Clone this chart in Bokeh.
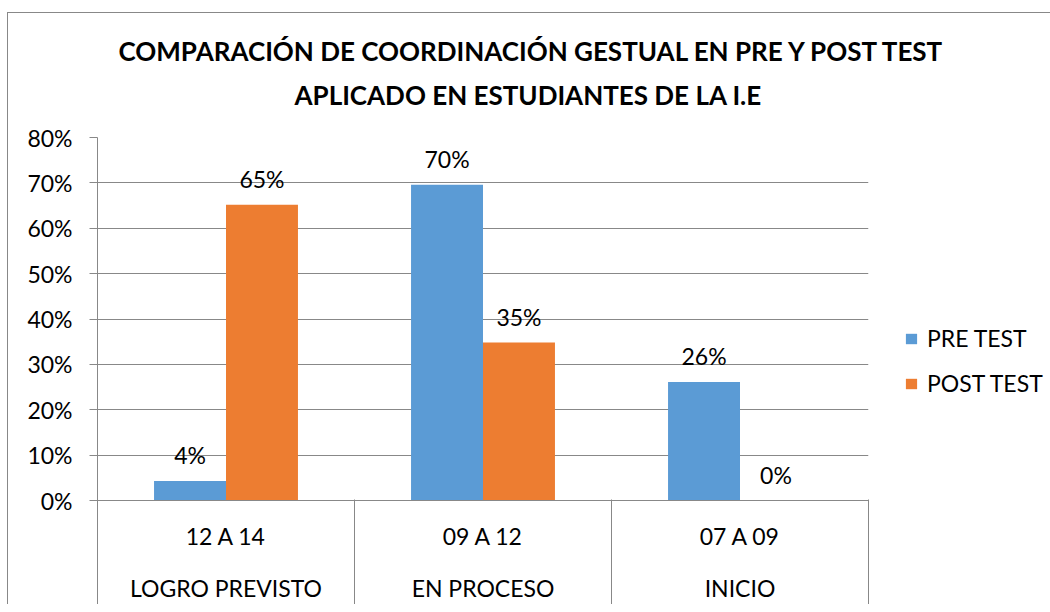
from bokeh.plotting import figure
from bokeh.models import (FactorRange, Range1d, ColumnDataSource, NumeralTickFormatter,
                          FixedTicker, Legend, LegendItem, Title, LabelSet, LinearAxis)
from bokeh.core.properties import value
from bokeh.transform import dodge
from bokeh.embed import file_html
from bokeh.resources import INLINE

title_line1 = "COMPARACIÓN DE COORDINACIÓN GESTUAL EN PRE Y POST TEST"
title_line2 = "APLICADO EN ESTUDIANTES DE LA I.E"
groups = ["LOGRO PREVISTO", "EN PROCESO", "INICIO"]
ranges = ["12 A 14", "09 A 12", "07 A 09"]
pre_test = [0.043, 0.696, 0.261]
post_test = [0.652, 0.348, 0.0]
series_names = ["PRE TEST", "POST TEST"]
colors = ["#5B9BD5", "#ED7D31"]
y_ticks = [0, 0.1, 0.2, 0.3, 0.4, 0.5, 0.6, 0.7, 0.8]

FONT = "Lato"
GRAY = "#888888"
factors = [(g, r) for g, r in zip(groups, ranges)]

src = ColumnDataSource(dict(
    x=factors,
    pre=pre_test,
    post=post_test,
    pre_lbl=[f"{round(v*100)}%" for v in pre_test],
    post_lbl=[f"{round(v*100)}%" for v in post_test],
))

x_range = FactorRange(*factors, factor_padding=0, group_padding=0, range_padding=0)
p = figure(frame_width=771, frame_height=363, x_range=x_range, y_range=Range1d(0, 0.8),
           output_backend="svg", toolbar_location=None,
           min_border_left=89, min_border_right=174, min_border_top=124, min_border_bottom=0)
p.outline_line_color = None
p.styles = {"border-left": f"1px solid {GRAY}", "border-top": f"1px solid {GRAY}",
            "margin-left": "7px", "margin-top": "12px"}

r1 = p.vbar(x=dodge("x", -0.14, range=p.x_range), top="pre", width=0.28, source=src,
            fill_color=colors[0], line_color=None)
r2 = p.vbar(x=dodge("x", 0.14, range=p.x_range), top="post", width=0.28, source=src,
            fill_color=colors[1], line_color=None)

for col, lbl, off in (("pre", "pre_lbl", -0.14), ("post", "post_lbl", 0.14)):
    ls = LabelSet(x=dodge("x", off, range=p.x_range), y=col, text=lbl, source=src,
                  text_align="center", text_baseline="bottom", y_offset=12,
                  text_font=value(FONT), text_font_size="23px", text_color="#000000")
    p.add_layout(ls)

# y axis
p.yaxis.ticker = FixedTicker(ticks=y_ticks)
p.yaxis.formatter = NumeralTickFormatter(format="0%")
p.yaxis.major_label_text_font = FONT
p.yaxis.major_label_text_font_size = "23px"
p.yaxis.major_label_text_color = "#000000"
p.yaxis.major_label_standoff = 17
p.yaxis.major_tick_out = 8
p.yaxis.major_tick_in = 0
p.yaxis.minor_tick_line_color = None
p.yaxis.axis_line_color = GRAY
p.yaxis.major_tick_line_color = GRAY
p.ygrid.grid_line_color = GRAY
p.xgrid.grid_line_color = None

# x axis (two-level categories)
p.xaxis.axis_line_color = GRAY
p.xaxis.major_tick_line_color = None
p.xaxis.major_tick_out = 0
p.xaxis.major_tick_in = 0
p.xaxis.major_label_text_font = FONT
p.xaxis.major_label_text_font_size = "23px"
p.xaxis.major_label_text_color = "#000000"
p.xaxis.group_text_font = FONT
p.xaxis.group_text_font_size = "23px"
p.xaxis.group_text_color = "#000000"
p.xaxis.group_text_font_style = "normal"
p.xaxis.major_label_standoff = 21
p.xaxis.separator_line_color = None

# category separators: an unlabeled axis whose ticks sit on the category boundaries
bounds = list(range(len(factors) + 1))
sep_axis = LinearAxis(ticker=FixedTicker(ticks=bounds),
                      major_label_overrides={b: "" for b in bounds},
                      axis_line_color=None, major_tick_line_color=GRAY, major_tick_in=105,
                      major_tick_out=0, minor_tick_line_color=None,
                      major_label_text_font_size="1px", major_label_standoff=0)
p.add_layout(sep_axis, "below")

legend = Legend(items=[LegendItem(label=series_names[0], renderers=[r1]),
                       LegendItem(label=series_names[1], renderers=[r2])],
                label_text_font=FONT, label_text_font_size="23px", label_text_color="#000000",
                glyph_width=14, glyph_height=13, spacing=17, label_standoff=9,
                border_line_color=None, background_fill_alpha=0,
                location=(36, 103), padding=0, margin=0)
p.add_layout(legend, "right")

t2 = Title(text=title_line2, align="left", vertical_align="top", text_font=FONT,
           text_font_size="26px", text_font_style="bold", offset=197, standoff=50,
           text_color="#000000")
t1 = Title(text=title_line1, align="left", text_font=FONT, text_font_size="26px",
           text_font_style="bold", offset=21, text_color="#000000")
try:
    t1.standoff = -26
except Exception:
    t1.standoff = 0
p.add_layout(t2, "above")
p.add_layout(t1, "above")

open("out.html", "w").write(file_html(p, INLINE))
